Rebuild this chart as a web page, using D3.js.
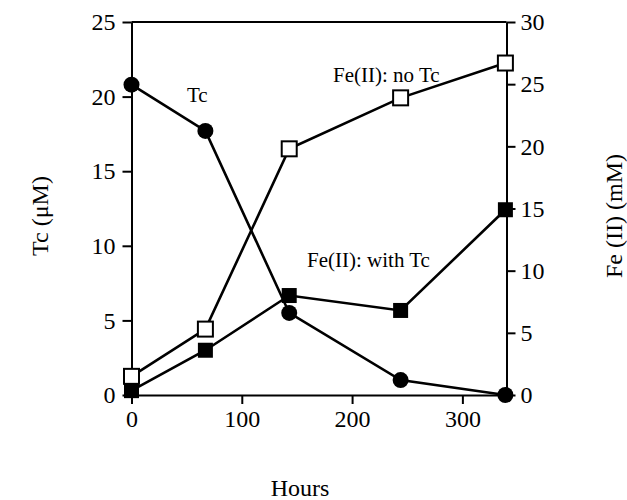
<!DOCTYPE html>
<html>
<head>
<meta charset="utf-8">
<script src="https://cdn.jsdelivr.net/npm/d3@7"></script>
<style>
  html, body { margin: 0; padding: 0; background: #fff; }
  svg { display: block; }
  text { font-family: "Liberation Serif", "Times New Roman", serif; fill: #000; }
</style>
</head>
<body>
<svg id="chart" width="627" height="500"></svg>
<script>
// ---- data ----
const hours = [0, 67, 143, 244, 339];
const tcValues = [20.8, 17.7, 5.5, 1.0, 0];          // Tc (µM), left axis
const feNoTc = [1.5, 5.3, 19.8, 23.9, 26.7];         // Fe(II) no Tc (mM), right axis
const feWithTc = [0.35, 3.6, 8.0, 6.8, 14.9];        // Fe(II) with Tc (mM), right axis
const xTicks = [0, 100, 200, 300];
const leftTicks = [0, 5, 10, 15, 20, 25];
const rightTicks = [0, 5, 10, 15, 20, 25, 30];

// ---- layout ----
const svg = d3.select("#chart");
const L = 131.5, R = 506.5, T = 22, B = 395;

const x = d3.scaleLinear().domain([0, 340]).range([L, R]);
const yL = d3.scaleLinear().domain([0, 25]).range([B, T]);
const yR = d3.scaleLinear().domain([0, 30]).range([B, T]);

const axisStyle = g => {
  g.selectAll("path").attr("stroke", "#000").attr("stroke-width", 2);
  g.selectAll("line").attr("stroke", "#000").attr("stroke-width", 2);
  g.selectAll("text").attr("font-family", '"Liberation Serif", serif').attr("font-size", 24).attr("fill", "#000");
};

// bottom axis
svg.append("g").attr("transform", `translate(0,${B})`)
  .call(d3.axisBottom(x).tickValues(xTicks).tickSize(9).tickPadding(6).tickSizeOuter(0))
  .call(axisStyle);
// left axis
svg.append("g").attr("transform", `translate(${L},0)`)
  .call(d3.axisLeft(yL).tickValues(leftTicks).tickSize(9).tickPadding(7).tickSizeOuter(0))
  .call(axisStyle);
// right axis
svg.append("g").attr("transform", `translate(${R},0)`)
  .call(d3.axisRight(yR).tickValues(rightTicks).tickSize(9).tickPadding(5).tickSizeOuter(0))
  .call(axisStyle);
// top border
svg.append("line").attr("x1", L).attr("x2", R).attr("y1", T).attr("y2", T)
  .attr("stroke", "#000").attr("stroke-width", 2);

// ---- series ----
const lineL = d3.line().x((d, i) => x(hours[i])).y(d => yL(d));
const lineR = d3.line().x((d, i) => x(hours[i])).y(d => yR(d));

svg.append("path").datum(tcValues).attr("d", lineL)
  .attr("fill", "none").attr("stroke", "#000").attr("stroke-width", 2.6);
svg.append("path").datum(feNoTc).attr("d", lineR)
  .attr("fill", "none").attr("stroke", "#000").attr("stroke-width", 2.6);
svg.append("path").datum(feWithTc).attr("d", lineR)
  .attr("fill", "none").attr("stroke", "#000").attr("stroke-width", 2.6);

const sq = 15;
svg.append("g").selectAll("rect").data(feNoTc).join("rect")
  .attr("x", (d, i) => x(hours[i]) - sq / 2).attr("y", d => yR(d) - sq / 2)
  .attr("width", sq).attr("height", sq)
  .attr("fill", "#fff").attr("stroke", "#000").attr("stroke-width", 2);
svg.append("g").selectAll("rect").data(feWithTc).join("rect")
  .attr("x", (d, i) => x(hours[i]) - sq / 2).attr("y", d => yR(d) - sq / 2)
  .attr("width", sq).attr("height", sq)
  .attr("fill", "#000");
svg.append("g").selectAll("circle").data(tcValues).join("circle")
  .attr("cx", (d, i) => x(hours[i])).attr("cy", d => yL(d)).attr("r", 8)
  .attr("fill", "#000");

// ---- annotations ----
svg.append("text").attr("x", 187).attr("y", 102).attr("font-size", 21).text("Tc");
svg.append("text").attr("x", 333).attr("y", 82).attr("font-size", 21).text("Fe(II): no Tc");
svg.append("text").attr("x", 307).attr("y", 267).attr("font-size", 21).text("Fe(II): with Tc");

// ---- axis titles ----
svg.append("text").attr("transform", "translate(40,216) rotate(-90)")
  .attr("text-anchor", "middle").attr("dominant-baseline", "central")
  .attr("font-size", 24).text("Tc (μM)");
svg.append("text").attr("transform", "translate(614,216) rotate(-90)")
  .attr("text-anchor", "middle").attr("dominant-baseline", "central")
  .attr("font-size", 24).text("Fe (II) (mM)");
svg.append("text").attr("x", 300).attr("y", 496)
  .attr("text-anchor", "middle").attr("font-size", 24).text("Hours");
</script>
</body>
</html>
